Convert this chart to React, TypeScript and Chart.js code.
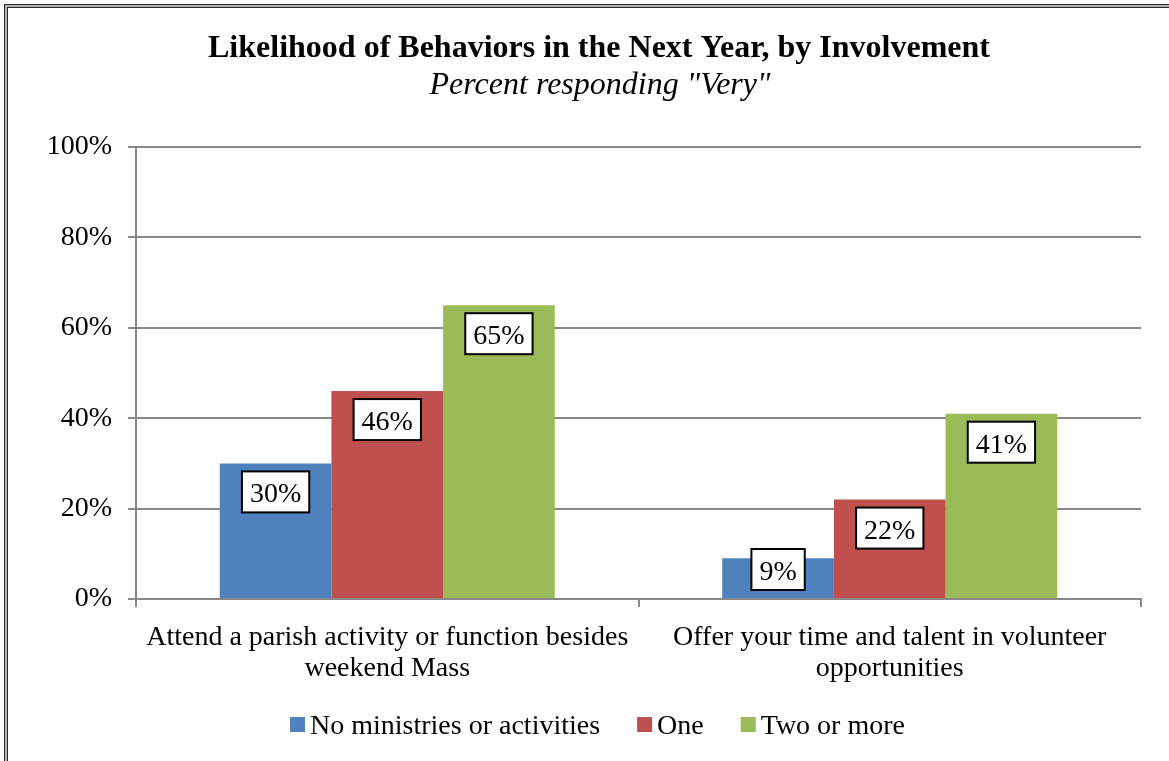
import React, { useEffect, useRef } from "react";
import { Chart, registerables } from "chart.js";

Chart.register(...registerables);

const categories: string[][] = [
  ["Attend a parish activity or function besides", "weekend Mass"],
  ["Offer your time and talent in volunteer", "opportunities"],
];
const seriesNames = ["No ministries or activities", "One", "Two or more"];
const noneValues = [30, 9];
const oneValues = [46, 22];
const twoOrMoreValues = [65, 41];
const seriesColors = ["#4F81BD", "#C0504D", "#9BBB59"];
const yMin = 0;
const yMax = 100;
const yStep = 20;
const titleText = "Likelihood of Behaviors in the Next Year, by Involvement";
const subtitleText = 'Percent responding "Very"';

const FONT = "'Liberation Serif', 'Times New Roman', serif";
const AXIS_GRAY = "#888888";

const W = 1169;
const H = 761;

const titlePlugin = {
  id: "titlesDraw",
  afterDraw(chart: any) {
    const ctx = chart.ctx;
    ctx.save();
    ctx.fillStyle = "#000";
    ctx.textAlign = "center";
    ctx.textBaseline = "alphabetic";
    ctx.font = `bold 32px ${FONT}`;
    ctx.fillText(titleText, 599, 57);
    ctx.font = `italic 32px ${FONT}`;
    ctx.fillText(subtitleText, 600, 94);
    ctx.restore();
  },
};

const labelPlugin = {
  id: "boxLabels",
  afterDatasetsDraw(chart: any) {
    const ctx = chart.ctx;
    ctx.save();
    ctx.font = `28px ${FONT}`;
    chart.data.datasets.forEach((ds: any, di: number) => {
      const meta = chart.getDatasetMeta(di);
      meta.data.forEach((bar: any, i: number) => {
        const txt = ds.data[i] + "%";
        const tw = ctx.measureText(txt).width;
        const bw = tw + 16;
        const bh = 41;
        let top = bar.y + 8;
        if (top + bh > bar.base - 8) top = bar.base - 8 - bh;
        const left = bar.x - bw / 2;
        ctx.fillStyle = "#fff";
        ctx.fillRect(left, top, bw, bh);
        ctx.strokeStyle = "#000";
        ctx.lineWidth = 2;
        ctx.strokeRect(left, top, bw, bh);
        ctx.fillStyle = "#000";
        ctx.textAlign = "center";
        ctx.textBaseline = "alphabetic";
        ctx.fillText(txt, bar.x, top + 31);
      });
    });
    ctx.restore();
  },
};

const legendPlugin = {
  id: "bottomLegend",
  afterDraw(chart: any) {
    const ctx = chart.ctx;
    ctx.save();
    ctx.font = `28px ${FONT}`;
    const box = 15;
    const gap = 5;
    const itemGap = 37;
    const items = chart.data.datasets.map((ds: any) => ({
      label: ds.label,
      color: ds.backgroundColor,
      w: box + gap + ctx.measureText(ds.label).width,
    }));
    const total =
      items.reduce((a: number, it: any) => a + it.w, 0) + itemGap * (items.length - 1);
    let x = 597.5 - total / 2;
    const cy = 724;
    items.forEach((it: any) => {
      ctx.fillStyle = it.color;
      ctx.fillRect(x, cy - 7, box, box);
      ctx.fillStyle = "#000";
      ctx.textAlign = "left";
      ctx.textBaseline = "alphabetic";
      ctx.fillText(it.label, x + box + gap, cy + 10);
      x += it.w + itemGap;
    });
    ctx.restore();
  },
};

export default function App() {
  const ref = useRef<HTMLCanvasElement | null>(null);

  useEffect(() => {
    if (!ref.current) return;
    const values = [noneValues, oneValues, twoOrMoreValues];
    const chart = new Chart(ref.current, {
      type: "bar",
      data: {
        labels: categories,
        datasets: seriesNames.map((name, i) => ({
          label: name,
          data: values[i],
          backgroundColor: seriesColors[i],
          borderWidth: 0,
          barPercentage: 1,
          categoryPercentage: 3 / 4.5,
        })),
      },
      options: {
        responsive: false,
        animation: false,
        devicePixelRatio: 1,
        layout: { padding: { top: 147, left: 0, right: 28, bottom: 0 } },
        plugins: {
          legend: { display: false },
          title: { display: false },
          tooltip: { enabled: false },
        },
        scales: {
          x: {
            offset: true,
            grid: {
              offset: true,
              drawOnChartArea: false,
              drawTicks: true,
              tickLength: 8,
              color: AXIS_GRAY,
              lineWidth: 2,
            },
            border: { color: AXIS_GRAY, width: 2 },
            ticks: {
              color: "#000",
              font: { family: FONT, size: 28, lineHeight: 1.08 },
              padding: 16,
              maxRotation: 0,
              autoSkip: false,
            },
            afterFit: (s: any) => {
              s.height = 162;
              s.paddingLeft = 0;
              s.paddingRight = 0;
            },
          },
          y: {
            min: yMin,
            max: yMax,
            grid: { color: AXIS_GRAY, lineWidth: 2, tickLength: 8 },
            border: { color: AXIS_GRAY, width: 2 },
            ticks: {
              stepSize: yStep,
              color: "#000",
              font: { family: FONT, size: 28 },
              padding: 16,
              callback: (v: any) => v + "%",
            },
            afterFit: (s: any) => {
              s.width = 136;
              s.paddingTop = 0;
              s.paddingBottom = 0;
            },
          },
        },
      },
      plugins: [labelPlugin, titlePlugin, legendPlugin],
    } as any);
    return () => chart.destroy();
  }, []);

  return (
    <div
      style={{
        position: "fixed",
        left: 0,
        top: 0,
        width: W,
        height: H,
        overflow: "hidden",
        background: "#fff",
      }}
    >
      <div
        style={{
          position: "absolute",
          left: 4,
          top: 4,
          width: W + 40,
          height: H + 40,
          border: "1px solid #2a2a2a",
          background: "#b4b4b4",
          boxSizing: "border-box",
        }}
      >
        <div
          style={{
            position: "absolute",
            left: 2,
            top: 2,
            right: 2,
            bottom: 2,
            border: "1px solid #2a2a2a",
            background: "#fff",
          }}
        />
      </div>
      <canvas
        ref={ref}
        width={W}
        height={H}
        style={{ position: "absolute", left: 0, top: 0, width: W, height: H }}
      />
    </div>
  );
}
